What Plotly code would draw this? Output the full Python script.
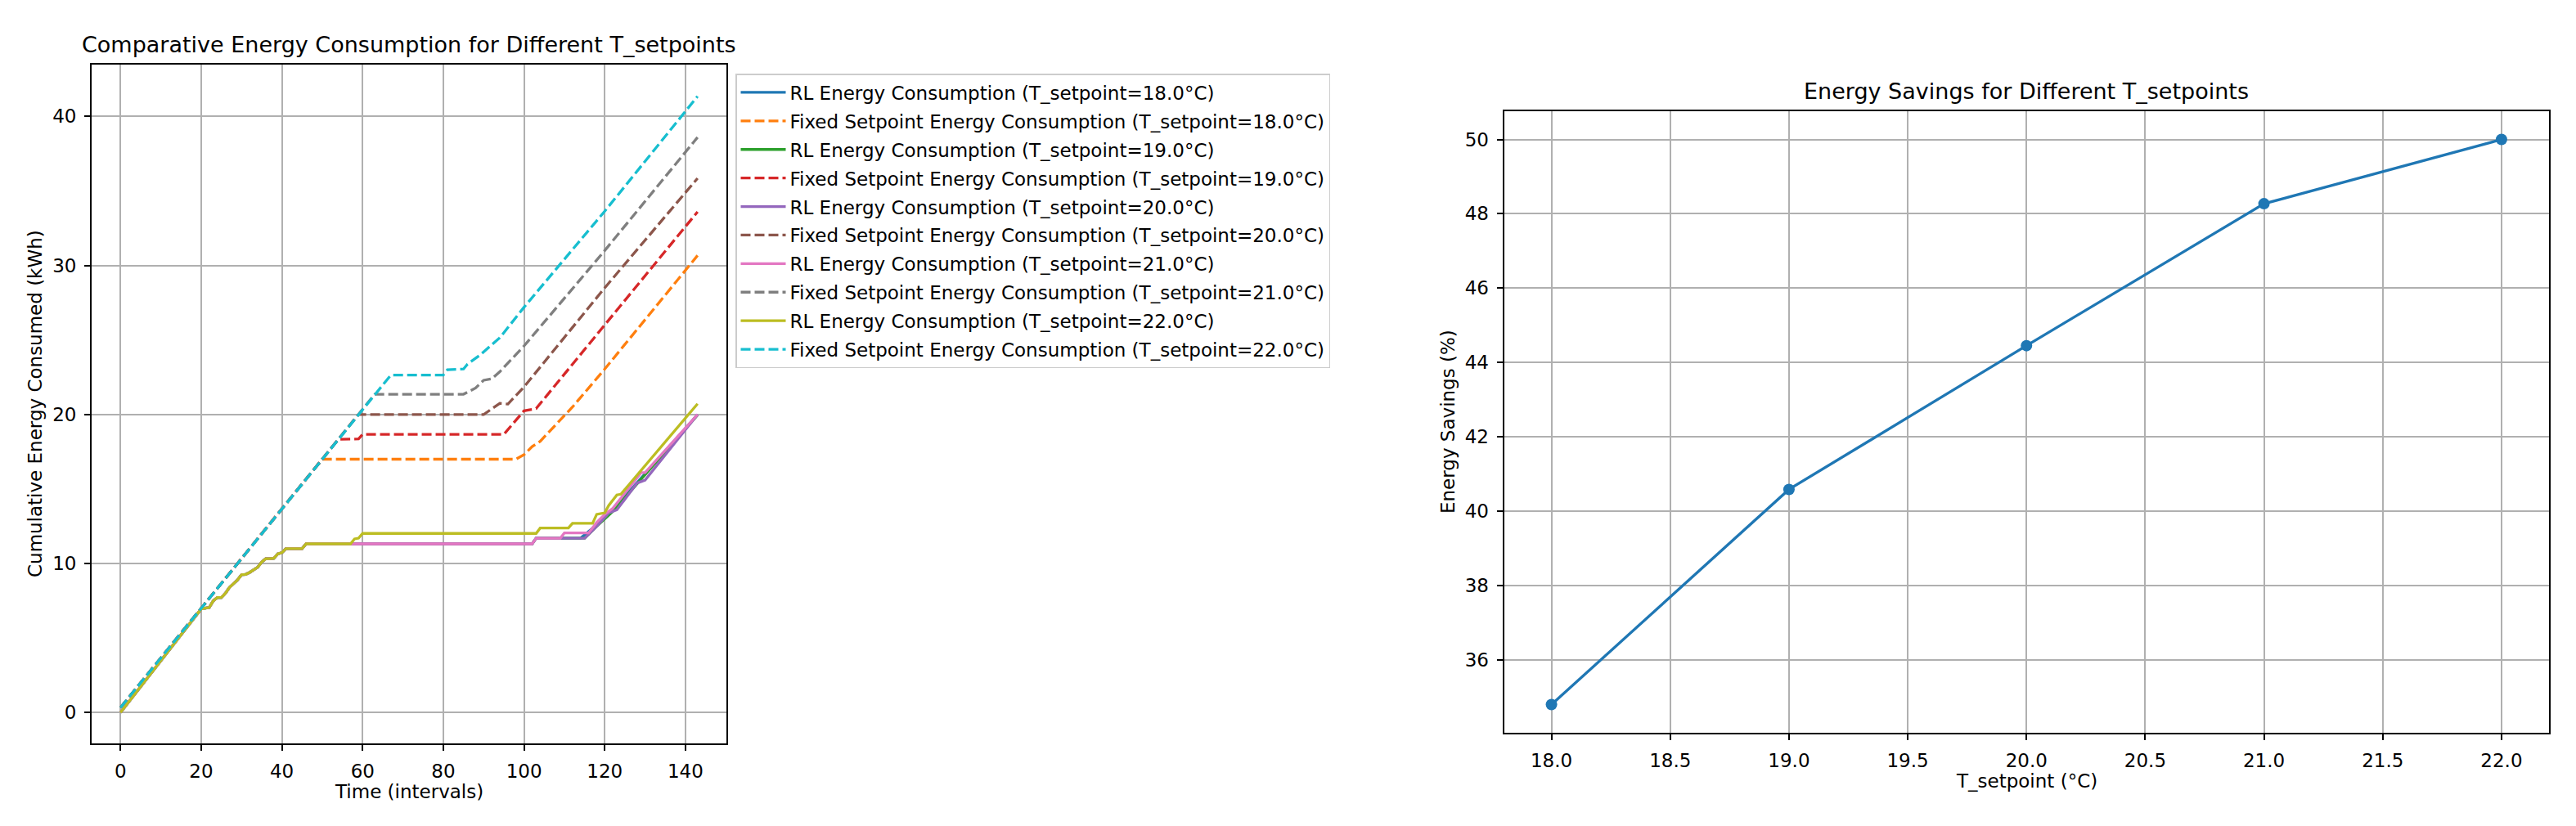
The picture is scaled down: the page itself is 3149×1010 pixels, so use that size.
import plotly.graph_objects as go

# ---------------- data ----------------
setpoints = [18.0, 19.0, 20.0, 21.0, 22.0]
colors_rl = ["#1f77b4", "#2ca02c", "#9467bd", "#e377c2", "#bcbd22"]
colors_fx = ["#ff7f0e", "#d62728", "#8c564b", "#7f7f7f", "#17becf"]

# shared early RL staircase (interval, cumulative kWh)
rl_base_x = [0, 20, 21, 22, 23, 24, 25, 26, 27, 28, 29, 30, 31, 32, 33, 34, 35, 36, 37, 38, 39, 40, 41, 45, 46]
rl_base_y = [0.0, 6.95, 7.0, 7.05, 7.5, 7.72, 7.72, 8.0, 8.4, 8.65, 8.9, 9.25, 9.27, 9.4, 9.6, 9.75, 10.1, 10.32, 10.32, 10.35, 10.65, 10.73, 11.0, 11.0, 11.32]

rl18_x = rl_base_x + [102, 103, 114, 118, 122, 143]
rl18_y = rl_base_y + [11.32, 11.7, 11.7, 12.6, 13.6, 19.98]
rl19_x = rl_base_x + [102, 103, 115, 118, 122, 143]
rl19_y = rl_base_y + [11.32, 11.7, 11.7, 12.5, 13.5, 19.97]
rl20_x = rl_base_x + [102, 103, 115, 118, 121, 123, 128, 129, 130, 143]
rl20_y = rl_base_y + [11.32, 11.7, 11.7, 12.5, 13.4, 13.6, 15.4, 15.5, 15.6, 20.0]
rl21_x = rl_base_x + [102, 103, 109, 110, 116, 118, 120, 122, 129, 130, 143]
rl21_y = rl_base_y + [11.32, 11.7, 11.7, 12.05, 12.05, 12.75, 13.3, 13.7, 16.1, 16.1, 20.0]
rl22_x = rl_base_x + [57, 58, 59, 60, 103, 104, 111, 112, 117, 118, 119, 120, 121, 123, 124, 143]
rl22_y = rl_base_y + [11.32, 11.65, 11.7, 12.02, 12.02, 12.38, 12.38, 12.7, 12.7, 13.3, 13.35, 13.4, 13.9, 14.6, 14.65, 20.72]

fx18_x = [0, 50, 98, 100, 102, 104, 112, 120, 143]
fx18_y = [0.33, 17.0, 17.0, 17.3, 17.85, 18.2, 20.5, 23.05, 30.67]
fx19_x = [0, 54, 59, 60, 95, 98, 100, 103, 120, 143]
fx19_y = [0.33, 18.33, 18.36, 18.67, 18.67, 19.6, 20.25, 20.4, 26.0, 33.6]
fx20_x = [0, 59, 90, 94, 96, 100, 120, 143]
fx20_y = [0.33, 20.0, 20.0, 20.75, 20.7, 21.85, 28.5, 35.85]
fx21_x = [0, 62, 63, 85, 88, 90, 92, 94, 98, 100, 120, 143]
fx21_y = [0.33, 21.0, 21.36, 21.36, 21.78, 22.3, 22.4, 22.87, 24.06, 24.6, 31.0, 38.6]
fx22_x = [0, 66, 67, 80, 81, 85, 86, 89, 94, 100, 120, 143]
fx22_y = [0.33, 22.33, 22.65, 22.65, 23.0, 23.05, 23.38, 23.97, 25.15, 27.2, 33.64, 41.35]

rl_x = [rl18_x, rl19_x, rl20_x, rl21_x, rl22_x]
rl_y = [rl18_y, rl19_y, rl20_y, rl21_y, rl22_y]
fx_x = [fx18_x, fx19_x, fx20_x, fx21_x, fx22_x]
fx_y = [fx18_y, fx19_y, fx20_y, fx21_y, fx22_y]

savings = [34.79, 40.58, 44.45, 48.27, 50.0]

# ---------------- figure ----------------
OFF = 8  # page body margin
W, H = 3149 - OFF, 1010 - OFF
FONT = "DejaVu Sans"
LW = 3.3
fig = go.Figure()

for i, sp in enumerate(setpoints):
    fig.add_trace(go.Scatter(
        x=rl_x[i], y=rl_y[i], mode="lines",
        name=f"RL Energy Consumption (T_setpoint={sp:.1f}°C)",
        line=dict(color=colors_rl[i], width=LW),
        legendgroup=f"g{2*i}", xaxis="x", yaxis="y"))
    fig.add_trace(go.Scatter(
        x=fx_x[i], y=fx_y[i], mode="lines",
        name=f"Fixed Setpoint Energy Consumption (T_setpoint={sp:.1f}°C)",
        line=dict(color=colors_fx[i], width=LW, dash="12px,5px"),
        legendgroup=f"g{2*i+1}", xaxis="x", yaxis="y"))

fig.add_trace(go.Scatter(
    x=setpoints, y=savings, mode="lines+markers",
    line=dict(color="#1f77b4", width=LW),
    marker=dict(color="#1f77b4", size=14),
    showlegend=False, xaxis="x2", yaxis="y2"))

def px_x(p):
    return (p - OFF) / W

def px_y(p):
    return 1 - (p - OFF) / H

axis_common = dict(
    showgrid=True, gridcolor="#b0b0b0", gridwidth=1.7,
    showline=True, linecolor="black", linewidth=1.8, mirror=True,
    ticks="outside", ticklen=7, tickwidth=1.7, tickcolor="black",
    tickfont=dict(family=FONT, size=23, color="black"),
    zeroline=False, ticklabelstandoff=5,
)

fig.update_layout(
    width=W, height=H,
    margin=dict(l=0, r=0, t=0, b=0),
    paper_bgcolor="white", plot_bgcolor="white",
    font=dict(family=FONT, size=23, color="black"),
    xaxis=dict(domain=[px_x(112), px_x(888)], range=[-7.15, 150.15],
               tickvals=[0, 20, 40, 60, 80, 100, 120, 140], anchor="y", **axis_common),
    yaxis=dict(domain=[px_y(909), px_y(78.6)], range=[-2.07, 43.5],
               tickvals=[0, 10, 20, 30, 40], anchor="x", **axis_common),
    xaxis2=dict(domain=[px_x(1838.5), px_x(3116)], range=[17.8, 22.2],
                tickvals=[18.0, 18.5, 19.0, 19.5, 20.0, 20.5, 21.0, 21.5, 22.0],
                tickformat=".1f", anchor="y2", **axis_common),
    yaxis2=dict(domain=[px_y(896), px_y(136)], range=[34.03, 50.76],
                tickvals=[36, 38, 40, 42, 44, 46, 48, 50], anchor="x2", **axis_common),
    legend=dict(
        x=px_x(899), y=px_y(90), xanchor="left", yanchor="top",
        bgcolor="rgba(255,255,255,0.8)", bordercolor="#cccccc", borderwidth=1.5,
        font=dict(family=FONT, size=23, color="black"),
        tracegroupgap=2, traceorder="grouped", itemwidth=55,
    ),
    showlegend=True,
)

annotations = [
    dict(text="Comparative Energy Consumption for Different T_setpoints",
         x=px_x(500), y=px_y(54.7), font=dict(size=27)),
    dict(text="Energy Savings for Different T_setpoints",
         x=px_x(2477), y=px_y(112), font=dict(size=27)),
    dict(text="Time (intervals)", x=px_x(500), y=px_y(968), font=dict(size=23)),
    dict(text="T_setpoint (°C)", x=px_x(2477), y=px_y(955), font=dict(size=23)),
    dict(text="Cumulative Energy Consumed (kWh)", x=px_x(43), y=px_y(494),
         textangle=-90, font=dict(size=23)),
    dict(text="Energy Savings (%)", x=px_x(1770), y=px_y(516),
         textangle=-90, font=dict(size=23)),
]
for a in annotations:
    a.update(xref="paper", yref="paper", showarrow=False,
             xanchor="center", yanchor="middle")
    a["font"].update(family=FONT, color="black")
fig.update_layout(annotations=annotations)

fig.write_html("out.html")
